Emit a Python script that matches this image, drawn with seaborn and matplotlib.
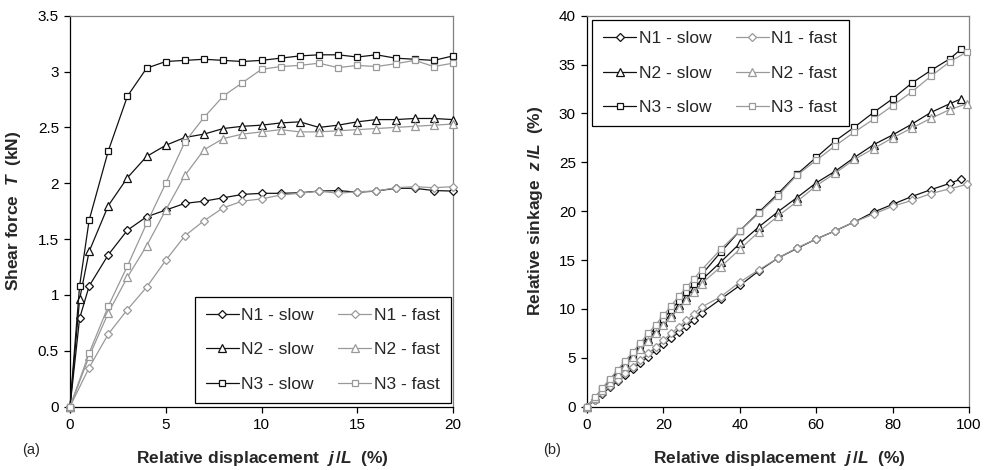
import matplotlib
matplotlib.use("Agg")
import matplotlib.pyplot as plt
import seaborn as sns
import pandas as pd

sns.set_style("ticks")
plt.rcParams['font.family'] = ['Liberation Sans', 'DejaVu Sans']
plt.rcParams['mathtext.fontset'] = 'custom'
plt.rcParams['mathtext.rm'] = 'Liberation Sans:bold'
plt.rcParams['mathtext.bf'] = 'Liberation Sans:bold'
plt.rcParams['mathtext.it'] = 'Liberation Sans:bold:italic'
plt.rcParams['mathtext.bfit'] = 'Liberation Sans:bold:italic'

# ---------------- Panel (a): shear force ----------------
a_slow_x = [0, 0.5, 1, 2, 3, 4, 5, 6, 7, 8, 9, 10, 11, 12, 13, 14, 15, 16, 17, 18, 19, 20]
a_fast_x = [0, 1, 2, 3, 4, 5, 6, 7, 8, 9, 10, 11, 12, 13, 14, 15, 16, 17, 18, 19, 20]

a_n1_slow = [0, 0.79, 1.08, 1.36, 1.58, 1.70, 1.76, 1.82, 1.84, 1.87, 1.90, 1.91, 1.91,
             1.915, 1.93, 1.935, 1.92, 1.93, 1.955, 1.955, 1.935, 1.93]
a_n2_slow = [0, 0.96, 1.39, 1.80, 2.05, 2.24, 2.34, 2.41, 2.44, 2.49, 2.51, 2.52, 2.54,
             2.55, 2.50, 2.52, 2.55, 2.57, 2.57, 2.58, 2.58, 2.57]
a_n3_slow = [0, 1.08, 1.67, 2.29, 2.78, 3.03, 3.09, 3.10, 3.11, 3.10, 3.09, 3.10, 3.12,
             3.14, 3.15, 3.15, 3.13, 3.15, 3.12, 3.11, 3.10, 3.14]
a_n1_fast = [0, 0.35, 0.65, 0.87, 1.07, 1.31, 1.53, 1.665, 1.78, 1.84, 1.86, 1.895, 1.91,
             1.93, 1.91, 1.925, 1.93, 1.96, 1.97, 1.96, 1.97]
a_n2_fast = [0, 0.45, 0.84, 1.16, 1.44, 1.76, 2.07, 2.30, 2.40, 2.44, 2.46, 2.48, 2.46,
             2.46, 2.47, 2.48, 2.49, 2.50, 2.51, 2.52, 2.53]
a_n3_fast = [0, 0.48, 0.90, 1.26, 1.64, 2.00, 2.37, 2.59, 2.78, 2.90, 3.02, 3.045, 3.055,
             3.075, 3.035, 3.055, 3.045, 3.07, 3.10, 3.045, 3.075]

# ---------------- Panel (b): sinkage ----------------
b_slow_x = [0, 2, 4, 6, 8, 10, 12, 14, 16, 18, 20, 22, 24, 26, 28, 30,
            35, 40, 45, 50, 55, 60, 65, 70, 75, 80, 85, 90, 95, 98]
b_fast_x = [0, 2, 4, 6, 8, 10, 12, 14, 16, 18, 20, 22, 24, 26, 28, 30,
            35, 40, 45, 50, 55, 60, 65, 70, 75, 80, 85, 90, 95, 99.5]

b_n1_slow = [0, 0.66, 1.32, 1.97, 2.6, 3.23, 3.86, 4.5, 5.12, 5.75, 6.38, 7.0, 7.62, 8.25, 8.9, 9.6,
             11.0, 12.4, 13.9, 15.2, 16.2, 17.15, 18.0, 18.9, 19.9, 20.7, 21.5, 22.2, 22.85, 23.3]
b_n2_slow = [0, 0.86, 1.73, 2.6, 3.46, 4.32, 5.18, 6.05, 6.9, 7.78, 8.64, 9.5, 10.37, 11.23, 12.1, 12.96,
             14.8, 16.7, 18.4, 19.95, 21.4, 22.9, 24.1, 25.5, 26.8, 27.8, 28.9, 30.1, 31.0, 31.5]
b_n3_slow = [0, 0.9, 1.8, 2.7, 3.6, 4.5, 5.4, 6.3, 7.2, 8.1, 9.0, 9.9, 10.8, 11.7, 12.6, 13.5,
             15.8, 18.0, 19.9, 21.8, 23.8, 25.5, 27.2, 28.6, 30.1, 31.5, 33.1, 34.4, 35.6, 36.6]
b_n1_fast = [0, 0.7, 1.4, 2.08, 2.76, 3.44, 4.1, 4.78, 5.45, 6.12, 6.8, 7.5, 8.15, 8.82, 9.5, 10.2,
             11.25, 12.75, 14.0, 15.2, 16.25, 17.15, 18.0, 18.9, 19.7, 20.5, 21.1, 21.8, 22.3, 22.75]
b_n2_fast = [0, 0.86, 1.7, 2.55, 3.38, 4.2, 5.05, 5.88, 6.7, 7.55, 8.4, 9.22, 10.05, 10.9, 11.75, 12.6,
             14.3, 16.1, 17.9, 19.5, 21.0, 22.6, 23.9, 25.3, 26.4, 27.5, 28.5, 29.5, 30.4, 31.0]
b_n3_fast = [0, 0.95, 1.9, 2.85, 3.75, 4.7, 5.6, 6.55, 7.5, 8.4, 9.35, 10.3, 11.3, 12.2, 13.1, 14.0,
             16.1, 18.0, 19.8, 21.6, 23.7, 25.2, 26.7, 28.1, 29.4, 30.8, 32.2, 33.8, 35.3, 36.3]

labels = ["N1 - slow", "N2 - slow", "N3 - slow", "N1 - fast", "N2 - fast", "N3 - fast"]
markers = ["D", "^", "s", "D", "^", "s"]
msizes = [4.3, 6.0, 5.0, 4.3, 6.0, 5.0]
DARK = "#111111"
GRAY = "#999999"
colors = [DARK, DARK, DARK, GRAY, GRAY, GRAY]

fig = plt.figure(figsize=(9.84, 4.70), dpi=100)
axa = fig.add_axes([70 / 984, (470 - 406.7) / 470, 383 / 984, 391 / 470])
axb = fig.add_axes([587 / 984, (470 - 406.7) / 470, 382 / 984, 391 / 470])


def draw(ax, xs_list, ys_list):
    for xs, ys, lab, mk, ms, col in zip(xs_list, ys_list, labels, markers, msizes, colors):
        df = pd.DataFrame({"x": xs, "y": ys})
        sns.lineplot(data=df, x="x", y="y", ax=ax, color=col, lw=0.9, marker=mk,
                     markersize=ms, markerfacecolor="white", markeredgecolor=col,
                     markeredgewidth=0.9, label=lab, sort=False, estimator=None,
                     clip_on=False, zorder=3)


draw(axa, [a_slow_x, a_slow_x, a_slow_x, a_fast_x, a_fast_x, a_fast_x],
     [a_n1_slow, a_n2_slow, a_n3_slow, a_n1_fast, a_n2_fast, a_n3_fast])
draw(axb, [b_slow_x, b_slow_x, b_slow_x, b_fast_x, b_fast_x, b_fast_x],
     [b_n1_slow, b_n2_slow, b_n3_slow, b_n1_fast, b_n2_fast, b_n3_fast])

axa.set_xlim(0, 20)
axa.set_ylim(0, 3.5)
axa.set_xticks([0, 5, 10, 15, 20])
axa.set_yticks([0, 0.5, 1, 1.5, 2, 2.5, 3, 3.5])
axa.set_yticklabels(["0", "0.5", "1", "1.5", "2", "2.5", "3", "3.5"])

axb.set_xlim(0, 100)
axb.set_ylim(0, 40)
axb.set_xticks([0, 20, 40, 60, 80, 100])
axb.set_yticks([0, 5, 10, 15, 20, 25, 30, 35, 40])

for ax in (axa, axb):
    ax.tick_params(axis="both", labelsize=11, length=4, width=0.9, color="black",
                   labelcolor="black", direction="out", pad=4)
    ax.spines["left"].set_color("black")
    ax.spines["bottom"].set_color("black")
    ax.spines["top"].set_color("#808080")
    ax.spines["right"].set_color("#808080")
    for s in ax.spines.values():
        s.set_linewidth(0.9)
        s.set_visible(True)
    ax.grid(False)

xlab = r"Relative displacement  $\mathbfit{j}\,/\mathbfit{L}$  (%)"
axa.set_xlabel(xlab, fontsize=12.5, fontweight="bold")
axb.set_xlabel(xlab, fontsize=12.5, fontweight="bold")
axa.set_ylabel(r"Shear force  $\mathbfit{T}$  (kN)", fontsize=12.5, fontweight="bold")
axb.set_ylabel(r"Relative sinkage  $\mathbfit{z}\,/\mathbfit{L}$  (%)", fontsize=12.5,
               fontweight="bold")
axa.xaxis.set_label_coords(0.502, -0.108)
axb.xaxis.set_label_coords(0.503, -0.108)
axa.yaxis.set_label_coords(-0.122, 0.5)
axb.yaxis.set_label_coords(-0.11, 0.5)

fig.text(31 / 984, 1 - 450 / 470, "(a)", fontsize=10.5, ha="center", va="center")
fig.text(552 / 984, 1 - 450 / 470, "(b)", fontsize=10.5, ha="center", va="center")

leg_kw = dict(ncol=2, fontsize=12.5, frameon=True, fancybox=False, shadow=False,
              handlelength=1.9, handletextpad=0.15, columnspacing=1.4,
              labelspacing=1.1, borderpad=0.65, borderaxespad=0.0)
la = axa.legend(loc="lower right", bbox_to_anchor=(0.995, 0.0095), **leg_kw)
lb = axb.legend(loc="upper left", bbox_to_anchor=(0.013, 0.989), **leg_kw)
for lg in (la, lb):
    lg.get_frame().set_edgecolor("black")
    lg.get_frame().set_linewidth(0.9)
    lg.get_frame().set_alpha(1)

fig.savefig("out.png", dpi=100)
